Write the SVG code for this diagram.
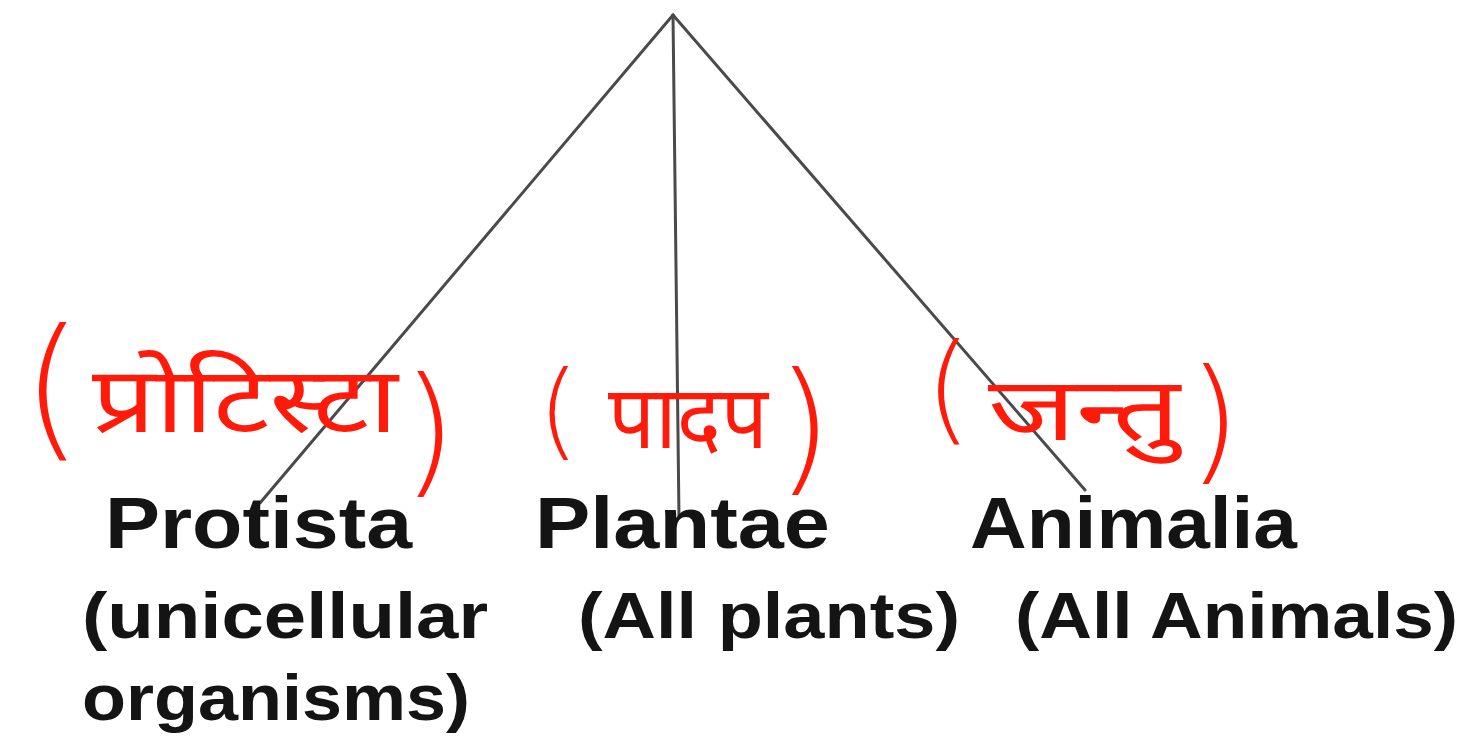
<svg xmlns="http://www.w3.org/2000/svg" width="1470" height="747" viewBox="0 0 1470 747">
<style>
.lbl{font-family:"Liberation Sans",Arial,sans-serif;font-weight:bold;fill:#141414}
.big{font-size:72px}
.sub{font-size:64px}
.hi{font-family:"Noto Sans Devanagari","Noto Sans","DejaVu Sans",sans-serif;fill:#ff1a0a}
.par{font-family:"DejaVu Sans","Liberation Sans",sans-serif;font-weight:200;fill:#ff1a0a}
.edge{stroke:#4a4a4a;stroke-width:3;fill:none;stroke-linecap:round}
</style>
<rect width="1470" height="747" fill="#ffffff"/>
<g id="connectors">
<line class="edge" x1="673" y1="15" x2="260" y2="503"/>
<line class="edge" x1="673" y1="15" x2="679" y2="518" stroke-width="4"/>
<line class="edge" x1="673" y1="15" x2="1085" y2="490"/>
</g>
<g id="node-protista">
<text class="lbl big" x="105" y="548" textLength="307" lengthAdjust="spacingAndGlyphs">Protista</text>
<text class="lbl sub" x="82" y="638" textLength="406" lengthAdjust="spacingAndGlyphs">(unicellular</text>
<text class="lbl sub" x="82" y="720" textLength="388" lengthAdjust="spacingAndGlyphs">organisms)</text>
</g>
<g id="node-plantae">
<text class="lbl big" x="535" y="548" textLength="295" lengthAdjust="spacingAndGlyphs">Plantae</text>
<text class="lbl sub" x="578" y="638" textLength="382" lengthAdjust="spacingAndGlyphs">(All plants)</text>
</g>
<g id="node-animalia">
<text class="lbl big" x="970" y="548" textLength="327" lengthAdjust="spacingAndGlyphs">Animalia</text>
<text class="lbl sub" x="1015" y="638" textLength="443" lengthAdjust="spacingAndGlyphs">(All Animals)</text>
</g>
<g id="annot-protista">
<text class="par" x="22" y="440" font-size="155">(</text>
<text class="hi" x="92" y="432" font-size="92" textLength="306" lengthAdjust="spacingAndGlyphs">प्रोटिस्टा</text>
<text class="par" x="402" y="478" font-size="140">)</text>
</g>
<g id="annot-plantae">
<text class="par" x="538" y="446" font-size="105">(</text>
<text class="hi" x="608" y="448" font-size="88" textLength="160" lengthAdjust="spacingAndGlyphs">पादप</text>
<text class="par" x="776" y="476" font-size="145">)</text>
</g>
<g id="annot-animalia">
<text class="par" x="925" y="429" font-size="120">(</text>
<text class="hi" x="988" y="440" font-size="88" textLength="192" lengthAdjust="spacingAndGlyphs">जन्तु</text>
<text class="par" x="1188" y="466" font-size="135">)</text>
</g>
</svg>
